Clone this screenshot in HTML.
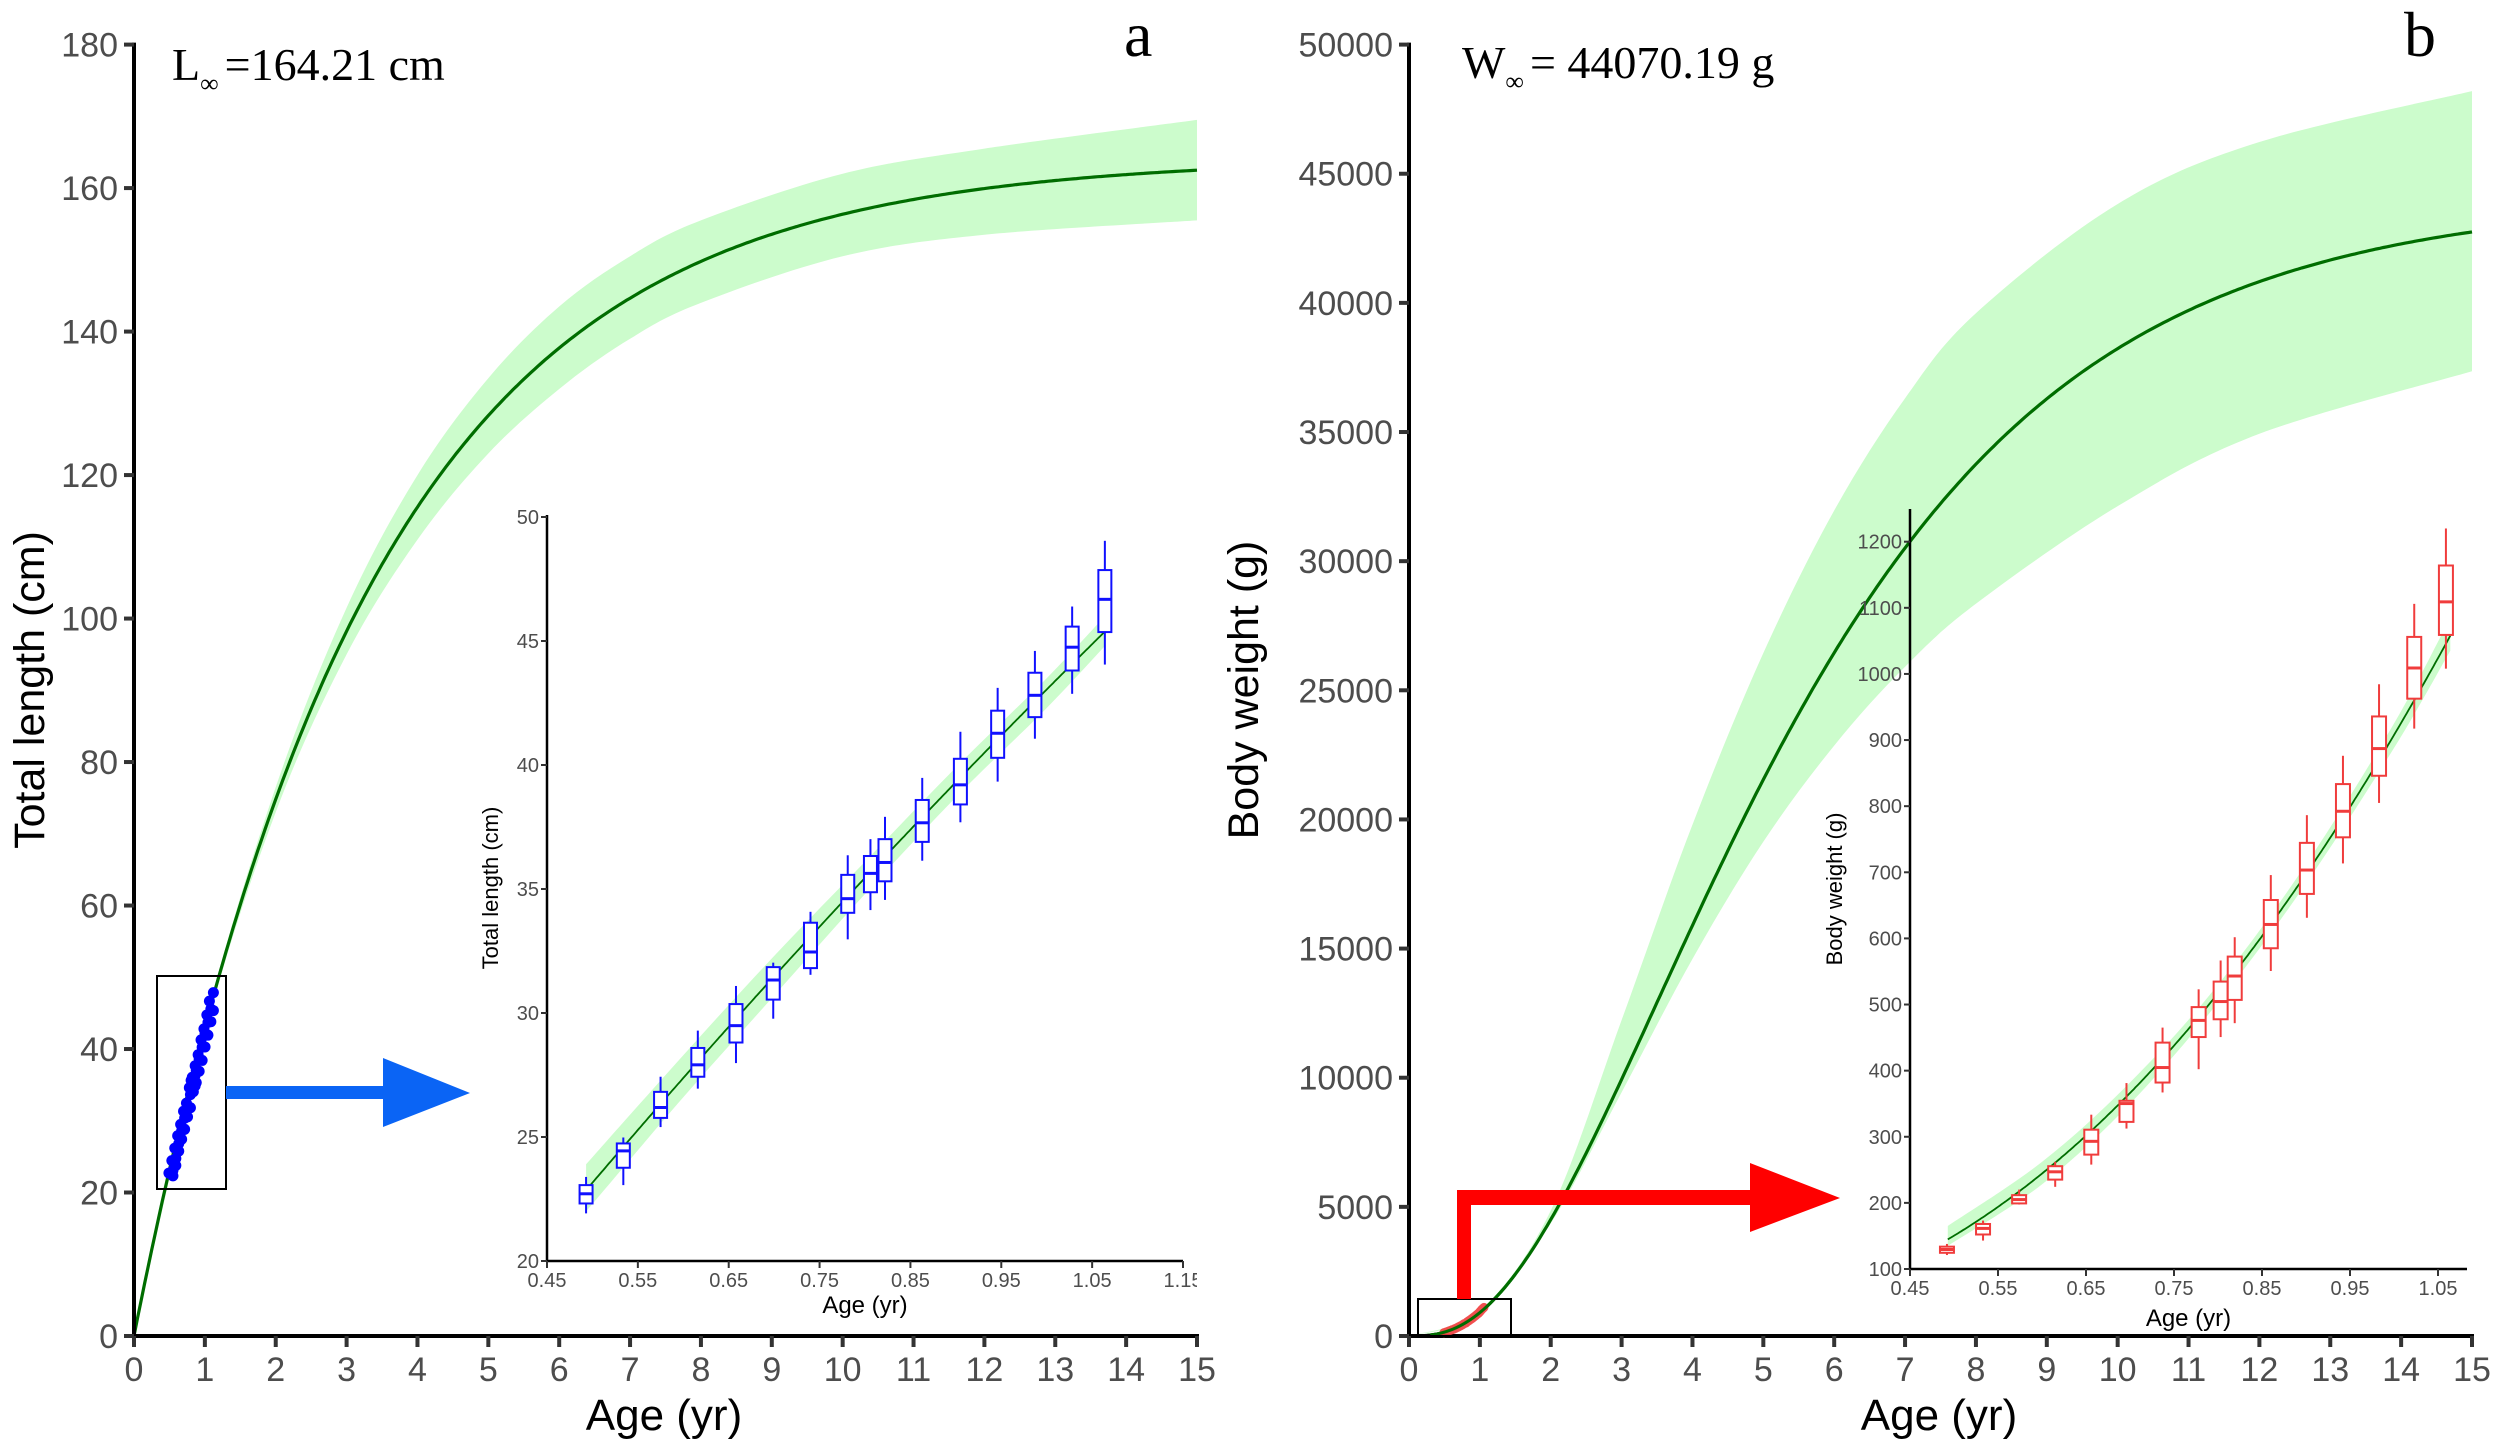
<!DOCTYPE html>
<html><head><meta charset="utf-8">
<style>
html,body{margin:0;padding:0;background:#fff;}
svg{display:block;}
text{font-family:"Liberation Sans",Arial,sans-serif;}
.serif{font-family:"Liberation Serif","Times New Roman",serif;}
</style></head>
<body>
<svg id="fig" width="2500" height="1443" viewBox="0 0 2500 1443" xmlns="http://www.w3.org/2000/svg">
<defs>
<clipPath id="clipA"><rect x="134" y="30" width="1070" height="1306"/></clipPath>
<clipPath id="clipB"><rect x="1409" y="30" width="1070" height="1306"/></clipPath>
<clipPath id="clipInA"><rect x="0" y="480" width="1197" height="860"/></clipPath>
</defs>
<g id="layer"></g>
</svg>
<script>
// ---------- data ----------
const lengthParams = [164.21, 0.304, 0];      // Linf, K, t0
const weightParams = [44070.19, 0.304, 0, 2.9]; // Winf, K, t0, b
const mainTicksX = [0,1,2,3,4,5,6,7,8,9,10,11,12,13,14,15];
const lenTicksY = [0,20,40,60,80,100,120,140,160,180];
const wtTicksY = [0,5000,10000,15000,20000,25000,30000,35000,40000,45000,50000];
const bandAges = [0,1,2,3,4,5,6,7,8,10,12,15];
const lenBandUpper = [0,43.5,76.5,101.5,120,133.5,143.5,150.5,155.5,162,165.5,169.5];
const lenBandLower = [0,42.3,73,95,111,123,132,139,144,150.5,153.5,155.5];
const wtBandAges = [0,1,2,3,4,5,6,7,8,10,12,15];
const wtBandUpper = [0,990,4850,12230,19800,26440,31960,36310,39600,43830,46230,48200];
const wtBandLower = [0,860,4355,9430,14600,19140,22860,25910,28350,32130,34930,37350];

// inset a (total length boxes)
const lenAges = [0.493,0.534,0.575,0.616,0.658,0.699,0.740,0.781,0.806,0.822,0.863,0.905,0.946,0.987,1.028,1.064];
const lenWhiskerHi = [23.39,24.98,27.43,29.29,31.09,32.03,34.08,36.36,37.01,37.91,39.48,41.34,43.11,44.60,46.39,49.04];
const lenQ3 = [23.06,24.74,26.82,28.59,30.36,31.85,33.64,35.57,36.33,37.01,38.59,40.25,42.19,43.72,45.58,47.86];
const lenMedian = [22.71,24.44,26.19,27.91,29.49,31.33,32.46,34.61,35.63,36.07,37.67,39.20,41.28,42.81,44.75,46.68];
const lenQ1 = [22.32,23.76,25.77,27.43,28.81,30.54,31.81,34.04,34.87,35.31,36.90,38.41,40.29,41.93,43.81,45.36];
const lenWhiskerLo = [21.92,23.06,25.40,26.95,27.98,29.77,31.54,32.97,34.15,34.56,36.14,37.69,39.33,41.06,42.87,44.05];
const insetABandAges = [0.493,0.6,0.7,0.8,0.9,1.0,1.064];
const insetABandUpper = [23.9,28.3,32.3,36.1,39.9,43.5,46.0];
const insetABandLower = [22.0,26.6,30.7,34.8,38.7,42.3,44.8];
const insetATicksX = [0.45,0.55,0.65,0.75,0.85,0.95,1.05,1.15];
const insetATicksY = [20,25,30,35,40,45,50];

// inset b (body weight boxes)
const wtAges = [0.492,0.533,0.574,0.615,0.656,0.696,0.737,0.778,0.803,0.819,0.860,0.901,0.942,0.983,1.023,1.059];
const wtWhiskerHi = [137.9,173.2,220.1,262.1,333.4,381.2,465.1,523.0,566.6,601.8,695.8,786.4,876.2,984.4,1106,1220];
const wtQ3 = [133.8,168.1,211.7,255.5,310.7,354.4,442.4,496.1,534.7,572.5,658.1,744.5,833.4,935.7,1056,1164];
const wtMedian = [129.5,161.4,205.0,247.0,293.1,350.2,404.7,476.0,504.5,543.1,621.1,703.4,792.3,887.1,1009,1109];
const wtQ1 = [124.5,152.2,199.2,235.2,273.0,322.5,382.0,450.8,477.7,507.0,585.1,667.3,752.9,846.0,962.6,1059];
const wtWhiskerLo = [121.1,143.0,197.5,224.3,257.9,312.4,367.0,402.2,450.8,471.8,550.7,631.2,713.4,804.9,917.3,1008];
const insetBBandAges = [0.493,0.6,0.7,0.8,0.9,1.0,1.064];
const insetBBandUpper = [165,262,382,530,712,925,1085];
const insetBBandLower = [135,228,350,503,683,888,1035];
const insetBTicksX = [0.45,0.55,0.65,0.75,0.85,0.95,1.05];
const insetBTicksY = [100,200,300,400,500,600,700,800,900,1000,1100,1200];

// ---------- helpers ----------
const NS = "http://www.w3.org/2000/svg";
const root = document.getElementById('layer');
function mk(tag, attrs, parent, txt){
  const e = document.createElementNS(NS, tag);
  for (const k in attrs) e.setAttribute(k, attrs[k]);
  if (txt !== undefined) e.textContent = txt;
  (parent || root).appendChild(e);
  return e;
}
function lin(d0,d1,r0,r1){ return v => r0 + (v-d0)/(d1-d0)*(r1-r0); }
function vbL(t){ return lengthParams[0]*(1-Math.exp(-lengthParams[1]*(t-lengthParams[2]))); }
function vbW(t){ const u = 1-Math.exp(-weightParams[1]*(t-weightParams[2])); return weightParams[0]*Math.pow(Math.max(u,0), weightParams[3]); }
function smoothPath(pts){
  let d = 'M'+pts[0][0].toFixed(1)+','+pts[0][1].toFixed(1);
  for (let i=0;i<pts.length-1;i++){
    const p0 = pts[Math.max(i-1,0)], p1 = pts[i], p2 = pts[i+1], p3 = pts[Math.min(i+2,pts.length-1)];
    const c1 = [p1[0]+(p2[0]-p0[0])/6, p1[1]+(p2[1]-p0[1])/6];
    const c2 = [p2[0]-(p3[0]-p1[0])/6, p2[1]-(p3[1]-p1[1])/6];
    d += ' C'+c1[0].toFixed(1)+','+c1[1].toFixed(1)+' '+c2[0].toFixed(1)+','+c2[1].toFixed(1)+' '+p2[0].toFixed(1)+','+p2[1].toFixed(1);
  }
  return d;
}
function bandPath(ages, up, lo, sx, sy){
  const top = ages.map((a,i)=>[sx(a), sy(up[i])]);
  const bot = ages.map((a,i)=>[sx(a), sy(lo[i])]).reverse();
  let d = smoothPath(top);
  d += ' L' + smoothPath(bot).slice(1) + ' Z';
  return d;
}
function curvePath(fn, t0, t1, sx, sy){
  let d = '';
  const n = 300;
  for (let i=0;i<=n;i++){ const t = t0+(t1-t0)*i/n; d += (i?'L':'M')+sx(t).toFixed(1)+','+sy(fn(t)).toFixed(1); }
  return d;
}

// ---------- main panels ----------
function mainPanel(id, x0, yTicks, yMax, fn, bAges, bUp, bLo, clip, ytitle, yTitleX){
  const sx = lin(0,15,x0,x0+1063);
  const sy = lin(0,yMax,1336,44.6);
  const g = mk('g',{});
  
  
  const band = mk('path',{d:bandPath(bAges,bUp,bLo,sx,sy), fill:'#ccfccc', stroke:'none','clip-path':'url(#'+clip+')'}, g);
  
  
  const cv = mk('path',{d:curvePath(fn,0,15,sx,sy), fill:'none', stroke:'#006d00','stroke-width':3.2,'clip-path':'url(#'+clip+')'}, g);
  
  
  const ax = mk('g',{}, g);
  
  
  mk('line',{x1:x0,y1:sy(yMax)-2,x2:x0,y2:1338,stroke:'#000','stroke-width':4}, ax);
  mk('line',{x1:x0-2,y1:1336,x2:sx(15)+2,y2:1336,stroke:'#000','stroke-width':4}, ax);
  yTicks.forEach(v=>{
    mk('line',{x1:x0-10,y1:sy(v),x2:x0,y2:sy(v),stroke:'#333','stroke-width':4}, ax);
    const t = mk('text',{x:x0-16,y:sy(v)+12,'text-anchor':'end','font-size':34,fill:'#4d4d4d'}, ax, String(v));
    
    
  });
  mainTicksX.forEach(v=>{
    mk('line',{x1:sx(v),y1:1336,x2:sx(v),y2:1347,stroke:'#333','stroke-width':4}, ax);
    const t = mk('text',{x:sx(v),y:1381,'text-anchor':'middle','font-size':34,fill:'#4d4d4d'}, ax, String(v));
    
    
  });
  const xt = mk('text',{x:x0+530,y:1430,'text-anchor':'middle','font-size':44,fill:'#000'}, g, 'Age (yr)');
  
  
  const yt = mk('text',{x:0,y:0,'text-anchor':'middle','font-size':43,fill:'#000',transform:'translate('+yTitleX+',690) rotate(-90)'}, g, ytitle);
  
  
  return {sx, sy, g};
}
const A = mainPanel('panel-a', 134, lenTicksY, 180, vbL, bandAges, lenBandUpper, lenBandLower, 'clipA', 'Total length (cm)', 44);
const B = mainPanel('panel-b', 1409, wtTicksY, 50000, vbW, wtBandAges, wtBandUpper, wtBandLower, 'clipB', 'Body weight (g)', 1258);

// annotations
const la = mk('text',{x:172,y:80,'font-size':46,fill:'#000','class':'serif'}, root);


la.appendChild(document.createTextNode('L'));
mk('tspan',{dy:12,'font-size':26}, la, '\u221E');
mk('tspan',{dy:-12,dx:6}, la, '=164.21 cm');
const wa = mk('text',{x:1462,y:78,'font-size':46,fill:'#000','class':'serif'}, root);


wa.appendChild(document.createTextNode('W'));
mk('tspan',{dy:12,'font-size':26}, wa, '\u221E');
mk('tspan',{dy:-12,dx:6}, wa, '= 44070.19 g');
const pa = mk('text',{x:1124,y:56,'font-size':64,fill:'#000','class':'serif'}, root, 'a');


const pb = mk('text',{x:2404,y:56,'font-size':64,fill:'#000','class':'serif'}, root, 'b');



// ---------- main data markers & zoom boxes ----------
const dotsA = mk('g',{}, root);


lenAges.forEach((a,i)=>{
  [lenQ3[i], lenMedian[i], lenQ1[i]].forEach(v=>{
    const c = mk('circle',{cx:A.sx(a)+ (v===lenMedian[i]?0:4),cy:A.sy(v),r:5.5,fill:'#0000ff'}, dotsA);
    
    
  });
});
const rA = mk('rect',{x:157,y:976,width:69,height:213,fill:'none',stroke:'#000','stroke-width':2}, root);


const arA = mk('path',{d:'M226,1086 L383,1086 L383,1058 L470,1093 L383,1127 L383,1099 L226,1099 Z',fill:'#0a64f5'}, root);



const dotsB = mk('path',{d:smoothPath(wtAges.map((a,i)=>[B.sx(a),B.sy(wtMedian[i])])),fill:'none',stroke:'#f03c3c','stroke-width':9,'stroke-linecap':'round','opacity':0.9}, root);


mk('path',{d:curvePath(vbW,0.3,1.5,B.sx,B.sy),fill:'none',stroke:'#006d00','stroke-width':3}, root);
const rB = mk('rect',{x:1418,y:1299,width:93,height:37,fill:'none',stroke:'#000','stroke-width':2}, root);


const arB = mk('path',{d:'M1457,1299 L1457,1190 L1750,1190 L1750,1163 L1840,1198 L1750,1232 L1750,1205 L1471,1205 L1471,1299 Z',fill:'#ff0000'}, root);



// ---------- insets ----------
function inset(id, xL, xR, dx0, dx1, yB, yT, dy0, dy1, yTop, xEnd, ticksX, ticksY, ages, wh, q3, med, q1, wl, bA, bU, bL, fn, color, ytitle, yTitleX, xTitleY, clip, boxW){
  const sx = lin(dx0,dx1,xL,xR);
  const sy = lin(dy0,dy1,yB,yT);
  const g = mk('g',{});
  
  
  const band = mk('path',{d:bandPath(bA,bU,bL,sx,sy),fill:'#ccfccc'}, g);
  
  
  const cv = mk('path',{d:curvePath(fn,bA[0],bA[bA.length-1],sx,sy),fill:'none',stroke:'#006d00','stroke-width':1.8}, g);
  
  
  ages.forEach((a,i)=>{
    const bx = mk('g',{}, g);
    
    
    const x = sx(a);
    mk('line',{x1:x,y1:sy(wh[i]),x2:x,y2:sy(q3[i]),stroke:color,'stroke-width':2}, bx);
    mk('line',{x1:x,y1:sy(q1[i]),x2:x,y2:sy(wl[i]),stroke:color,'stroke-width':2}, bx);
    mk('rect',{x:x-boxW/2,y:sy(q3[i]),width:boxW,height:Math.max(sy(q1[i])-sy(q3[i]),1),fill:'#fff',stroke:color,'stroke-width':2}, bx);
    mk('line',{x1:x-boxW/2,y1:sy(med[i]),x2:x+boxW/2,y2:sy(med[i]),stroke:color,'stroke-width':3}, bx);
  });
  const ax = mk('g',clip ? {'clip-path':'url(#'+clip+')'} : {}, g);
  
  
  mk('line',{x1:xL,y1:yTop,x2:xL,y2:yB+1,stroke:'#000','stroke-width':2.5}, ax);
  mk('line',{x1:xL,y1:yB,x2:xEnd,y2:yB,stroke:'#000','stroke-width':2.5}, ax);
  ticksY.forEach(v=>{
    mk('line',{x1:xL-6,y1:sy(v),x2:xL,y2:sy(v),stroke:'#333','stroke-width':2}, ax);
    const t = mk('text',{x:xL-8,y:sy(v)+7,'text-anchor':'end','font-size':20,fill:'#4d4d4d'}, ax, String(v));
    
    
  });
  ticksX.forEach(v=>{
    mk('line',{x1:sx(v),y1:yB,x2:sx(v),y2:yB+7,stroke:'#333','stroke-width':2}, ax);
    const t = mk('text',{x:sx(v),y:yB+26,'text-anchor':'middle','font-size':20,fill:'#4d4d4d'}, ax, v.toFixed(2));
    
    
  });
  const xt = mk('text',{x:(xL+xEnd)/2,y:xTitleY,'text-anchor':'middle','font-size':24,fill:'#000'}, g, 'Age (yr)');
  
  
  const yt = mk('text',{x:0,y:0,'text-anchor':'middle','font-size':22,fill:'#000',transform:'translate('+yTitleX+','+((yB+yTop)/2)+') rotate(-90)'}, g, ytitle);
  
  
}
inset('inset-a', 547, 1183, 0.45, 1.15, 1261, 517, 20, 50, 515, 1183, insetATicksX, insetATicksY,
  lenAges, lenWhiskerHi, lenQ3, lenMedian, lenQ1, lenWhiskerLo,
  insetABandAges, insetABandUpper, insetABandLower, vbL, '#1010ff', 'Total length (cm)', 498, 1313, 'clipInA', 13);
inset('inset-b', 1910, 2438, 0.45, 1.05, 1269, 541.7, 100, 1200, 509, 2467, insetBTicksX, insetBTicksY,
  wtAges, wtWhiskerHi, wtQ3, wtMedian, wtQ1, wtWhiskerLo,
  insetBBandAges, insetBBandUpper, insetBBandLower, vbW, '#f03c3c', 'Body weight (g)', 1842, 1326, null, 14);
</script>
</body></html>
